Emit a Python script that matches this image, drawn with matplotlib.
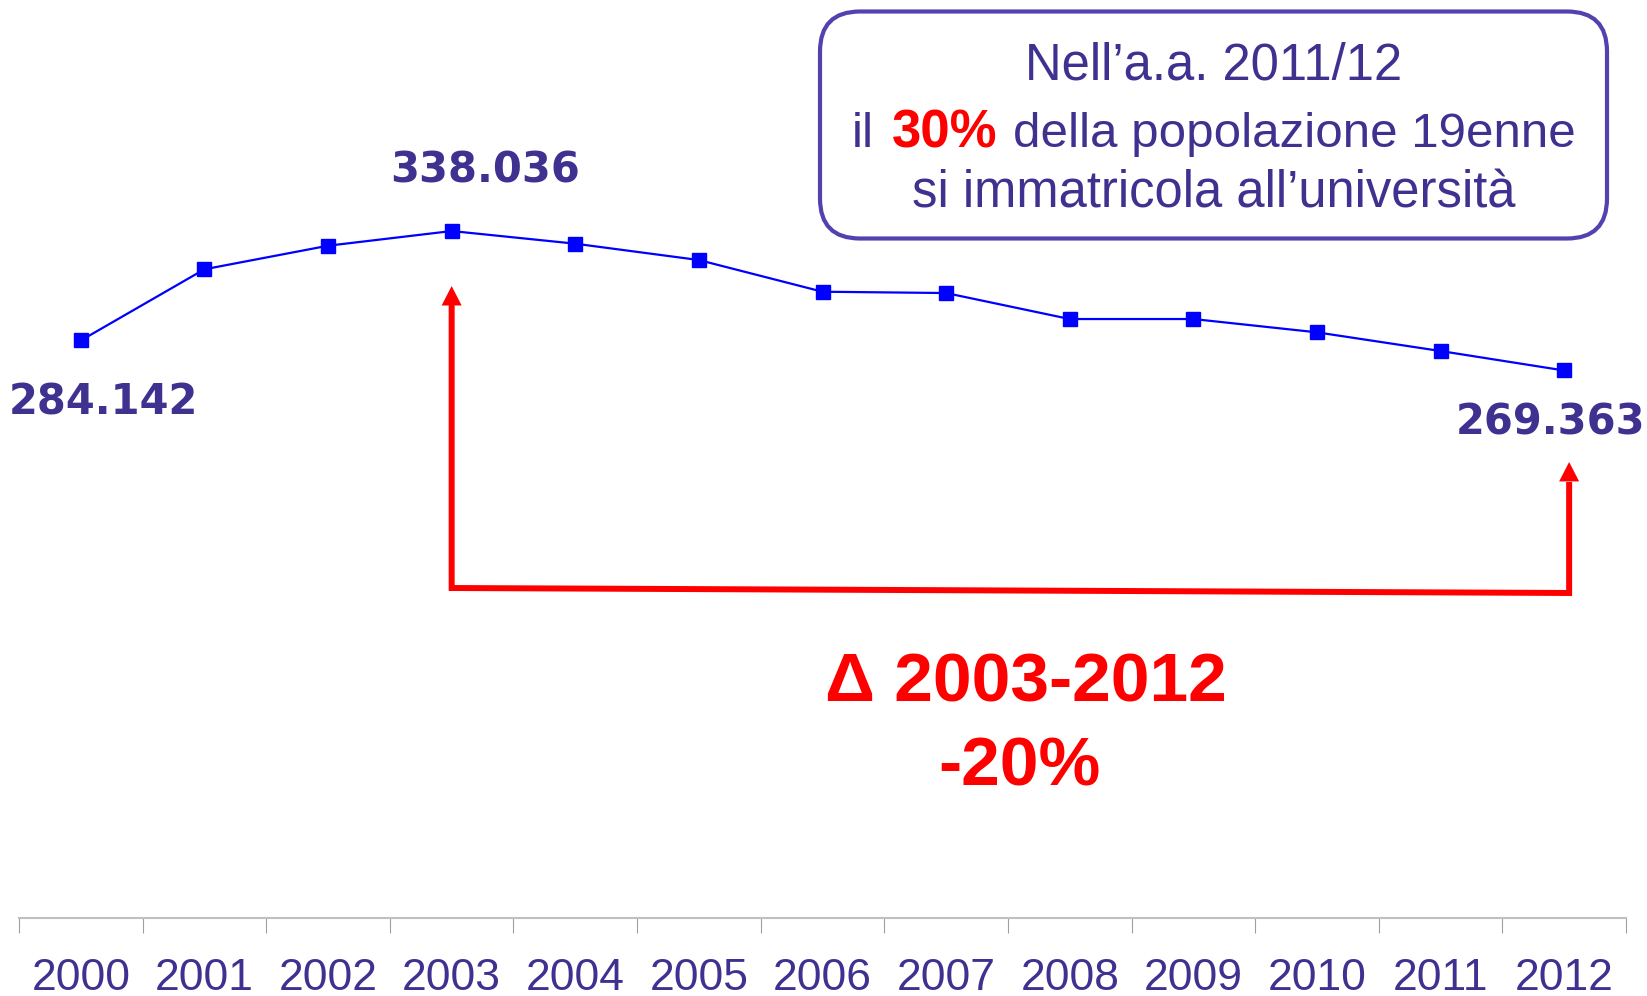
import numpy as np
import matplotlib
matplotlib.use('Agg')
import matplotlib.pyplot as plt
from matplotlib.patches import FancyBboxPatch

plt.rcParams['font.family'] = ['Liberation Sans', 'DejaVu Sans']

### dati: immatricolati per anno
years = ['2000', '2001', '2002', '2003', '2004', '2005', '2006',
         '2007', '2008', '2009', '2010', '2011', '2012']
immatricolati = [284142, 319200, 330800, 338036, 331800, 323750, 308150,
                 307500, 294700, 294700, 288150, 278950, 269363]
labelled = ['2000', '2003', '2012']

box_lines = ['Nell\u2019a.a. 2011/12',
             ['il', '30%', 'della popolazione 19enne'],
             'si immatricola all\u2019universit\u00e0']
delta_lines = ['\u0394 2003-2012', '-20%']

PURPLE = '#3F3190'
BOX_EC = '#5540B0'
BLUE = '#0000FF'
RED = '#FF0000'

W, H = 1647, 996
fig = plt.figure(figsize=(W / 100, H / 100), dpi=100)
ax = fig.add_axes([19 / W, 1 - 917.5 / H, 1607 / W, 917.5 / H])

x = np.arange(len(years))
ax.plot(x, immatricolati, color=BLUE, lw=1.6, marker='s', ms=10,
        mfc=BLUE, mec=BLUE, clip_on=False, zorder=3)
ax.set_xlim(-0.5, len(years) - 0.5)
ax.set_ylim(0, 451800)

for s in ['top', 'right', 'left']:
    ax.spines[s].set_visible(False)
ax.spines['bottom'].set_color('#C0C0C0')
ax.spines['bottom'].set_linewidth(1.5)
ax.set_yticks([])
ax.set_xticks(np.arange(-0.5, len(years)))
ax.set_xticklabels([])
ax.set_xticks(x, minor=True)
ax.set_xticklabels(years, minor=True)
ax.tick_params(axis='x', which='major', length=11, width=0.8, color='#A0A0A0')
ax.tick_params(axis='x', which='minor', length=0, pad=29,
               labelsize=32, labelcolor=PURPLE)

### etichette dei valori
offsets = {'2000': (16.6, -53.3), '2003': (23.8, 34.6), '2012': (-10.1, -46.4)}
for yr in labelled:
    i = years.index(yr)
    v = immatricolati[i]
    ax.annotate(f'{v:,}'.replace(',', '.'), xy=(i, v), xytext=offsets[yr],
                textcoords='offset points', ha='center', va='baseline',
                fontsize=30, fontweight='bold', color=PURPLE,
                family='DejaVu Sans')

### freccia rossa 2003 -> 2012
i0, i1 = years.index('2003'), years.index('2012') + 0.04
ax.plot([i0, i0, i1, i1], [301600, 162250, 159800, 214450], color=RED,
        lw=4.3, solid_joinstyle='miter', solid_capstyle='butt', zorder=2)
for xi, tip, base in [(i0, 310950, 301000), (i1, 224300, 213800)]:
    ax.annotate('', xy=(xi, tip), xytext=(xi, base),
                arrowprops=dict(arrowstyle='-|>,head_length=1.4,head_width=0.72',
                                mutation_scale=10, color=RED, lw=0,
                                shrinkA=0, shrinkB=0))

fig.text(1026 / W, 1 - 702 / H, delta_lines[0], ha='center', va='baseline',
         fontsize=50, fontweight='bold', color=RED)
fig.text(1019 / W, 1 - 785 / H, delta_lines[1], ha='center', va='baseline',
         fontsize=50, fontweight='bold', color=RED)

### riquadro
fig.add_artist(FancyBboxPatch((8.20, (H - 238.5) / 100), 7.87, 2.27,
                              boxstyle='round,pad=0,rounding_size=0.4',
                              transform=fig.dpi_scale_trans, fc='white',
                              ec=BOX_EC, lw=3))
cx = 1213.5
fig.text(cx / W, 1 - 80 / H, box_lines[0], ha='center', va='baseline',
         fontsize=36.5, color=PURPLE)
fig.text(cx / W, 1 - 207 / H, box_lines[2], ha='center', va='baseline',
         fontsize=36.5, color=PURPLE)

r = fig.canvas.get_renderer()
styles = [(PURPLE, 'normal', 35.5), (RED, 'bold', 38), (PURPLE, 'normal', 35.5)]
gaps = [18, 16, 0]
parts = [fig.text(0, 1 - 147 / H, s, color=c, fontweight=fw, fontsize=fs,
                  va='baseline', ha='left')
         for s, (c, fw, fs) in zip(box_lines[1], styles)]
widths = [t.get_window_extent(r).width for t in parts]
x0 = cx - (sum(widths) + sum(gaps)) / 2
for t, w, g in zip(parts, widths, gaps):
    t.set_x(x0 / W)
    x0 += w + g

fig.savefig('out.png', dpi=100)
